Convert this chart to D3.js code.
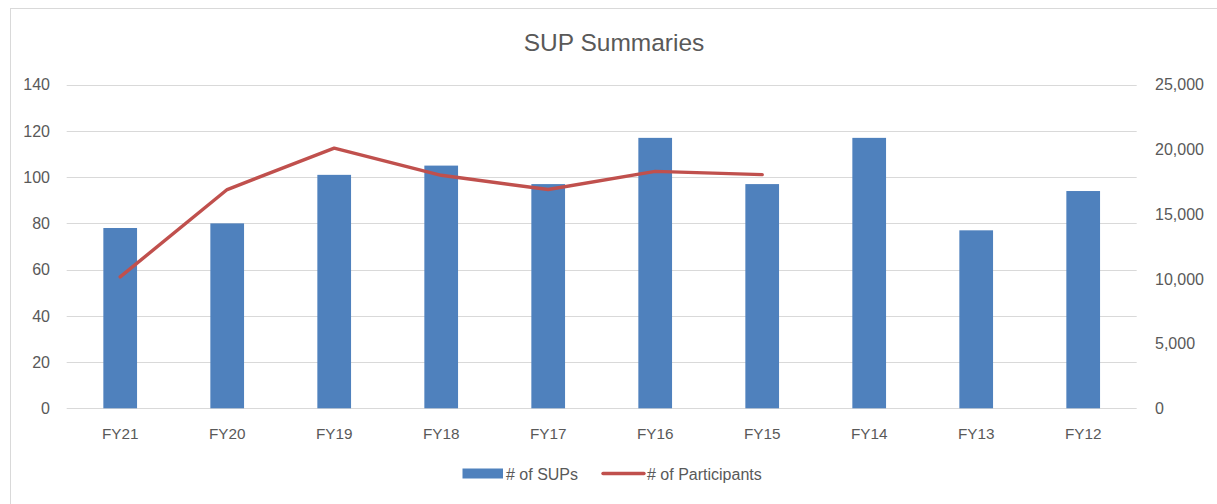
<!DOCTYPE html>
<html>
<head>
<meta charset="utf-8">
<script src="https://cdn.jsdelivr.net/npm/d3@7"></script>
<style>
  body { margin: 0; background: #fff; }
  text { font-family: 'Liberation Sans', Arial, sans-serif; fill: #595959; }
</style>
</head>
<body>
<div id="chart"></div>
<script>
// data
const categories = ['FY21', 'FY20', 'FY19', 'FY18', 'FY17', 'FY16', 'FY15', 'FY14', 'FY13', 'FY12'];
const supCounts = [78, 80, 101, 105, 97, 117, 97, 117, 77, 94];
const participants = [10150, 16900, 20100, 18000, 16900, 18300, 18050, null, null, null];
const leftTicks = [0, 20, 40, 60, 80, 100, 120, 140];
const rightTicks = [0, 5000, 10000, 15000, 20000, 25000];

const width = 1217, height = 504;
const plot = { left: 66.7, right: 1136.7, top: 84.7, bottom: 408.3 };

const svg = d3.select('#chart')
    .append('svg')
        .attr('width', width)
        .attr('height', height);

// frame
svg.append('rect')
    .attr('x', 10.5).attr('y', 8.5)
    .attr('width', 1220).attr('height', 520)
    .attr('fill', 'none')
    .attr('stroke', '#d9d9d9');

svg.append('text')
    .attr('x', 614).attr('y', 51)
    .attr('text-anchor', 'middle')
    .style('font-size', '24.5px')
    .text('SUP Summaries');

const x = d3.scaleBand()
    .domain(categories)
    .range([plot.left, plot.right]);

const yLeft = d3.scaleLinear()
    .domain([0, 140])
    .range([plot.bottom, plot.top]);

const yRight = d3.scaleLinear()
    .domain([0, 25000])
    .range([plot.bottom, plot.top]);

// gridlines
svg.append('g')
    .selectAll('line')
    .data(leftTicks)
    .enter()
    .append('line')
        .attr('x1', plot.left).attr('x2', plot.right)
        .attr('y1', d => Math.round(yLeft(d)) + 0.5)
        .attr('y2', d => Math.round(yLeft(d)) + 0.5)
        .attr('stroke', '#d9d9d9')
        .attr('stroke-width', 1);

// left axis labels
svg.append('g')
    .selectAll('text')
    .data(leftTicks)
    .enter()
    .append('text')
        .attr('x', 50)
        .attr('y', d => yLeft(d))
        .attr('dy', '0.36em')
        .attr('text-anchor', 'end')
        .style('font-size', '16px')
        .text(d => d);

// right axis labels
svg.append('g')
    .selectAll('text')
    .data(rightTicks)
    .enter()
    .append('text')
        .attr('x', 1155)
        .attr('y', d => yRight(d))
        .attr('dy', '0.36em')
        .style('font-size', '16px')
        .text(d => d3.format(',')(d));

// category labels
svg.append('g')
    .selectAll('text')
    .data(categories)
    .enter()
    .append('text')
        .attr('x', d => x(d) + x.bandwidth() / 2)
        .attr('y', 439)
        .attr('text-anchor', 'middle')
        .style('font-size', '15.3px')
        .text(d => d);

// bars
const barW = x.bandwidth() * 0.315;
svg.append('g')
    .selectAll('rect')
    .data(supCounts)
    .enter()
    .append('rect')
        .attr('x', (d, i) => x(categories[i]) + x.bandwidth() / 2 - barW / 2)
        .attr('y', d => yLeft(d))
        .attr('width', barW)
        .attr('height', d => yLeft(0) - yLeft(d))
        .attr('fill', '#4f81bd');

// participants line
const line = d3.line()
    .defined(d => d.v != null)
    .x(d => x(d.c) + x.bandwidth() / 2)
    .y(d => yRight(d.v));

svg.append('path')
    .datum(categories.map((c, i) => ({ c: c, v: participants[i] })))
    .attr('d', line)
    .attr('fill', 'none')
    .attr('stroke', '#c0504d')
    .attr('stroke-width', 3.4)
    .attr('stroke-linejoin', 'round')
    .attr('stroke-linecap', 'round');

// legend
const legendG = svg.append('g');
legendG.append('rect')
    .attr('x', 462.5).attr('y', 468.5)
    .attr('width', 40.5).attr('height', 10)
    .attr('fill', '#4f81bd');
legendG.append('text')
    .attr('x', 506).attr('y', 479.5)
    .style('font-size', '16px')
    .text('# of SUPs');
legendG.append('line')
    .attr('x1', 603).attr('x2', 644)
    .attr('y1', 473.5).attr('y2', 473.5)
    .attr('stroke', '#c0504d')
    .attr('stroke-width', 3.4)
    .attr('stroke-linecap', 'round');
legendG.append('text')
    .attr('x', 647).attr('y', 479.5)
    .style('font-size', '16px')
    .text('# of Participants');
</script>
</body>
</html>
